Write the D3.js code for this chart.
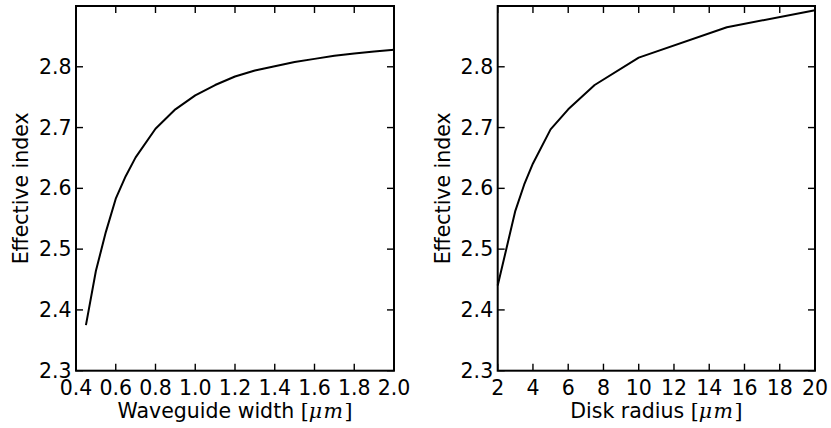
<!DOCTYPE html>
<html><head><meta charset="utf-8">
<script src="https://cdn.jsdelivr.net/npm/d3@7"></script>
<style>body{margin:0;background:#fff}svg{display:block}text{font-family:"DejaVu Sans",sans-serif;fill:#000}</style>
</head><body><svg id="c" width="831" height="428"></svg>
<script>
const widthX = [0.45,0.5,0.55,0.6,0.65,0.7,0.8,0.9,1.0,1.1,1.2,1.3,1.4,1.5,1.6,1.7,1.8,1.9,2.0];
const widthN = [2.375,2.464,2.528,2.583,2.620,2.651,2.698,2.730,2.753,2.770,2.784,2.794,2.801,2.808,2.813,2.818,2.822,2.825,2.828];
const radiusX = [2,3,3.5,4,5,6,7.5,10,15,20];
const radiusN = [2.440,2.563,2.606,2.641,2.697,2.730,2.770,2.815,2.865,2.893];
const yTicks = [2.3,2.4,2.5,2.6,2.7,2.8];
const xTicksL = [0.4,0.6,0.8,1.0,1.2,1.4,1.6,1.8,2.0];
const xTicksR = [2,4,6,8,10,12,14,16,18,20];

const svg = d3.select("#c");
const plotTop = 6, plotBottom = 370.7;
const fs = 20.5;

function panel(x0, x1, xdom, xticks, xfmt, xs, ys, xlabel, ylabelX) {
  const x = d3.scaleLinear().domain(xdom).range([x0, x1]);
  const y = d3.scaleLinear().domain([2.3, 2.9]).range([plotBottom, plotTop]);
  const g = svg.append("g");
  const tl = 7;
  xticks.forEach(t => {
    g.append("line").attr("x1", x(t)).attr("x2", x(t)).attr("y1", plotBottom).attr("y2", plotBottom - tl).attr("stroke", "#000").attr("stroke-width", 1.4);
    g.append("line").attr("x1", x(t)).attr("x2", x(t)).attr("y1", plotTop).attr("y2", plotTop + tl).attr("stroke", "#000").attr("stroke-width", 1.4);
    g.append("text").attr("x", x(t)).attr("y", 395).attr("text-anchor", "middle").attr("font-size", fs).text(xfmt(t));
  });
  yTicks.forEach(t => {
    g.append("line").attr("x1", x0).attr("x2", x0 + tl).attr("y1", y(t)).attr("y2", y(t)).attr("stroke", "#000").attr("stroke-width", 1.4);
    g.append("line").attr("x1", x1).attr("x2", x1 - tl).attr("y1", y(t)).attr("y2", y(t)).attr("stroke", "#000").attr("stroke-width", 1.4);
    g.append("text").attr("x", x0 - 4.5).attr("y", y(t) + 7).attr("text-anchor", "end").attr("font-size", fs).text(d3.format(".1f")(t));
  });
  const line = d3.line().x((d, i) => x(xs[i])).y((d, i) => y(ys[i]));
  g.append("path").attr("d", line(xs)).attr("fill", "none").attr("stroke", "#000").attr("stroke-width", 2).attr("stroke-linejoin", "round");
  g.append("rect").attr("x", x0).attr("y", plotTop).attr("width", x1 - x0).attr("height", plotBottom - plotTop).attr("fill", "none").attr("stroke", "#000").attr("stroke-width", 2);
  const xl = g.append("text").attr("x", (x0 + x1) / 2).attr("y", 418).attr("text-anchor", "middle").attr("font-size", fs);
  xl.append("tspan").text(xlabel + " ");
  xl.append("tspan").attr("font-family", "DejaVu Serif").attr("font-weight", 300).text("[");
  xl.append("tspan").attr("font-family", "DejaVu Serif").attr("font-style", "italic").attr("letter-spacing", 1.5).text("μm");
  xl.append("tspan").attr("font-family", "DejaVu Serif").attr("font-weight", 300).text("]");
  g.append("text").attr("transform", `translate(${ylabelX},${(plotTop + plotBottom) / 2}) rotate(-90)`).attr("text-anchor", "middle").attr("font-size", fs).text("Effective index");
}

panel(76, 394, [0.4, 2.0], xTicksL, d3.format(".1f"), widthX, widthN, "Waveguide width", 28);
panel(497.7, 815, [2, 20], xTicksR, d3.format("d"), radiusX, radiusN, "Disk radius", 450);
</script></body></html>
